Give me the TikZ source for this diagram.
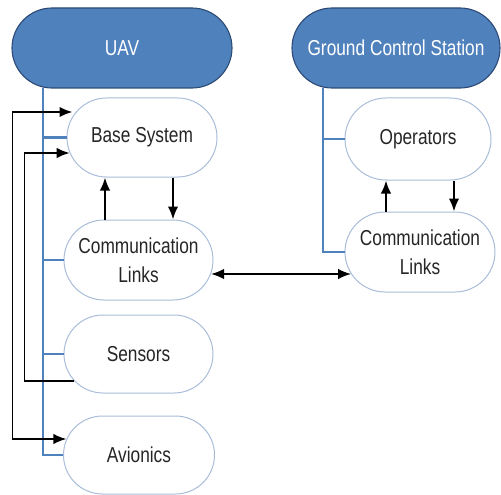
\documentclass[tikz,border=0pt]{standalone}
\usepackage{fontspec}
\usepackage{graphicx}
\setmainfont{Liberation Sans}
\usetikzlibrary{shapes.misc,arrows.meta}
\definecolor{headblue}{HTML}{4F81BD}
\definecolor{headedge}{HTML}{2C4A74}
\definecolor{boxedge}{HTML}{A9BDD9}
\definecolor{txt}{HTML}{262626}
% labels are set slightly tall
\newcommand{\tall}[1]{\scalebox{1}[1.25]{#1}}
\tikzset{
  headbox/.style={rounded rectangle, draw=headedge, line width=1.1pt, fill=headblue,
    text=white, inner sep=0pt, font=\fontsize{17.3}{29}\selectfont},
  partbox/.style={rounded rectangle, draw=boxedge, line width=1pt, fill=white,
    text=txt, inner sep=0pt, align=center, font=\fontsize{17.3}{29}\selectfont},
  bus/.style={draw=headblue, line width=2.4pt},
  arr/.style={draw=black, line width=1.9pt, -{Latex[length=13pt,width=10.5pt]}},
  dbl/.style={draw=black, line width=1.9pt, {Latex[length=13pt,width=10.5pt]}-{Latex[length=13pt,width=10.5pt]}}
}
\begin{document}
\begin{tikzpicture}[x=1pt,y=-1pt]
\useasboundingbox (0,0) rectangle (501,495);

% headers
\node[headbox, minimum width=220pt, minimum height=80pt] (uav) at (122,48) {\tall{UAV}};
\node[headbox, minimum width=208pt, minimum height=80pt] (gcs) at (396,48) {\tall{Ground Control Station}};

% UAV parts
\node[partbox, minimum width=150pt, minimum height=79pt] (base) at (142,137.5) {\tall{Base System}};
\node[partbox, minimum width=149pt, minimum height=80pt] (ucomm) at (138.5,260) {\tall{Communication}\\\tall{Links}};
\node[partbox, minimum width=149pt, minimum height=78pt] (sens) at (138.5,354) {\tall{Sensors}};
\node[partbox, minimum width=151pt, minimum height=78pt] (avi) at (139,455) {\tall{Avionics}};

% ground station parts
\node[partbox, minimum width=146pt, minimum height=82pt] (ops) at (418,139) {\tall{Operators}};
\node[partbox, minimum width=150pt, minimum height=80pt] (gcomm) at (420,252) {\tall{Communication}\\\tall{Links}};

% hierarchy buses
\coordinate (ubus) at (43,88);
\coordinate (gbus) at (323,88);
\draw[bus] (ubus) |- (avi.west);
\draw[bus] (ubus |- base.west) -- (base.west);
\draw[bus] (ubus |- ucomm.west) -- (ucomm.west);
\draw[bus] (ubus |- sens.west) -- (sens.west);
\draw[bus] (gbus) |- (gcomm.west);
\draw[bus] (gbus |- ops.west) -- (ops.west);

% data flow inside the UAV
\draw[arr] (ucomm.north -| 105,0) -- (base.south -| 105,0);
\draw[arr] (base.south -| 173,0) -- (ucomm.north -| 173,0);
\draw[dbl] ([shift={(6,-25.5)}]base.west) -- ++(-60,0) |- ([shift={(3.4,-16)}]avi.west);
\draw[arr] ([shift={(10,27)}]sens.west) -- ++(-49,0) |- ([shift={(3.2,15.5)}]base.west);

% data flow inside the ground station
\draw[arr] (gcomm.north -| 386,0) -- (ops.south -| 386,0);
\draw[arr] (ops.south -| 454,0) -- (gcomm.north -| 454,0);

% radio link
\draw[dbl] ([shift={(-2.5,14)}]ucomm.east) -- ([shift={(6.6,22)}]gcomm.west);
\end{tikzpicture}
\end{document}
